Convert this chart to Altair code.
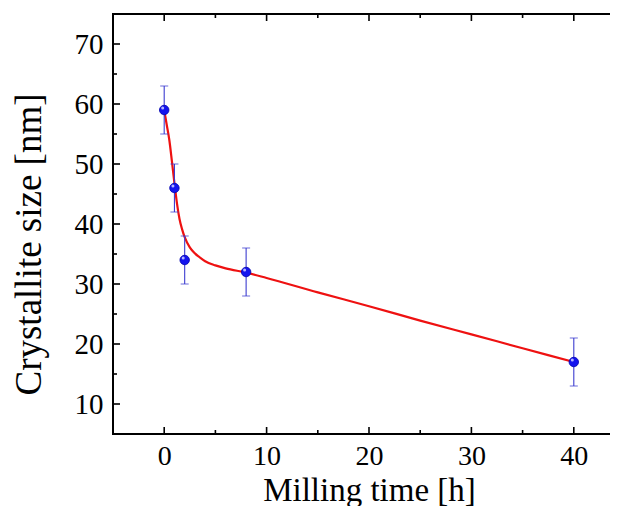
import altair as alt
import pandas as pd

# measured points
time_h = [0, 1, 2, 8, 40]
size_nm = [59, 46, 34, 32, 17]
err_nm = [4, 4, 4, 4, 4]

# fitted curve
curve_t = [0, 0.25, 0.5, 0.75, 1.0, 1.25, 1.5, 1.75, 2.0, 2.5, 3.0, 3.5, 4.0, 5.0, 6.0, 8.0, 10, 15, 20, 25, 30, 35, 40]
curve_v = [59, 56.5, 54, 50.5, 46.8, 43.4, 40.8, 39.1, 37.8, 36.1, 35.1, 34.4, 33.8, 33.1, 32.6, 31.9, 31.0, 28.6, 26.3, 23.9, 21.6, 19.3, 17.0]

# axis ticks
x_major = [0, 10, 20, 30, 40]
x_minor = [5, 15, 25, 35]
y_major = [10, 20, 30, 40, 50, 60, 70]
y_minor = [15, 25, 35, 45, 55, 65]

W, H = 512, 420
FONT = "Liberation Serif"

pts = pd.DataFrame({"t": time_h, "v": size_nm,
                    "lo": [v - e for v, e in zip(size_nm, err_nm)],
                    "hi": [v + e for v, e in zip(size_nm, err_nm)]})
curve = pd.DataFrame({"t": curve_t, "v": curve_v})

xs = alt.Scale(domain=[-5, 45], nice=False, zero=False)
ys = alt.Scale(domain=[5, 75], nice=False, zero=False)

xaxis = alt.Axis(values=x_major, title="Milling time [h]", grid=False, ticks=False, domain=False,
                 labelFontSize=28, labelPadding=8, titleFontSize=33,
                 titleBaseline="alphabetic", titleY=66)
yaxis = alt.Axis(values=y_major, title="Crystallite size [nm]", grid=False, ticks=False, domain=False,
                 labelFontSize=29, labelPadding=10, titleFontSize=37, titlePadding=26, titleY=230)

X = alt.X("t:Q", scale=xs, axis=xaxis)

line = alt.Chart(curve).mark_line(color="#ee1111", strokeWidth=2.2, interpolate="monotone").encode(
    x=X, y=alt.Y("v:Q", scale=ys, axis=yaxis),
)

EB = "#3c3cd0"
ebar = alt.Chart(pts).mark_rule(color=EB, strokeWidth=1.1).encode(
    x=X, y=alt.Y("lo:Q", scale=ys, axis=yaxis), y2="hi:Q")
cap_lo = alt.Chart(pts).mark_tick(color=EB, orient="horizontal", size=8, thickness=1.1).encode(
    x=X, y=alt.Y("lo:Q", scale=ys, axis=yaxis))
cap_hi = alt.Chart(pts).mark_tick(color=EB, orient="horizontal", size=8, thickness=1.1).encode(
    x=X, y=alt.Y("hi:Q", scale=ys, axis=yaxis))

dots = alt.Chart(pts).mark_point(filled=True, shape="circle", size=90, color="#1414ee", opacity=1,
                                 stroke="#0000b0", strokeWidth=0.8).encode(
    x=X, y=alt.Y("v:Q", scale=ys, axis=yaxis))
shine = alt.Chart(pts).mark_point(filled=True, shape="circle", size=9, color="#c8c8ff", opacity=0.9).encode(
    x=X, y=alt.Y("v:Q", scale=ys, axis=yaxis),
    xOffset=alt.value(-1.5), yOffset=alt.value(-2))

def xticks(vals, y0, y1):
    return alt.Chart(pd.DataFrame({"t": vals})).mark_rule(color="black", strokeWidth=1.6).encode(
        x=X, y=alt.value(y0), y2=alt.value(y1))

def yticks(vals, x0, x1):
    return alt.Chart(pd.DataFrame({"v": vals})).mark_rule(color="black", strokeWidth=1.6).encode(
        y=alt.Y("v:Q", scale=ys, axis=yaxis), x=alt.value(x0), x2=alt.value(x1))

ticks = [
    xticks(x_major, H, H - 7), xticks(x_minor, H, H - 4),
    xticks(x_major, 0, 7), xticks(x_minor, 0, 4),
    yticks(y_major, 0, 7), yticks(y_minor, 0, 4),
    yticks(y_major, W, W - 7), yticks(y_minor, W, W - 4),
]

chart = alt.layer(line, ebar, cap_lo, cap_hi, dots, shine, *ticks).properties(
    width=W, height=H, background="white",
    autosize=alt.AutoSizeParams(type="none"),
    padding={"left": 105, "top": 6, "right": -15, "bottom": 72},
).configure_view(stroke="black", strokeWidth=2).configure_axis(
    labelFont=FONT, titleFont=FONT, labelColor="black", titleColor="black", titleFontWeight="normal"
)

chart.save("out.html", embed_options={"renderer": "svg", "actions": False})
